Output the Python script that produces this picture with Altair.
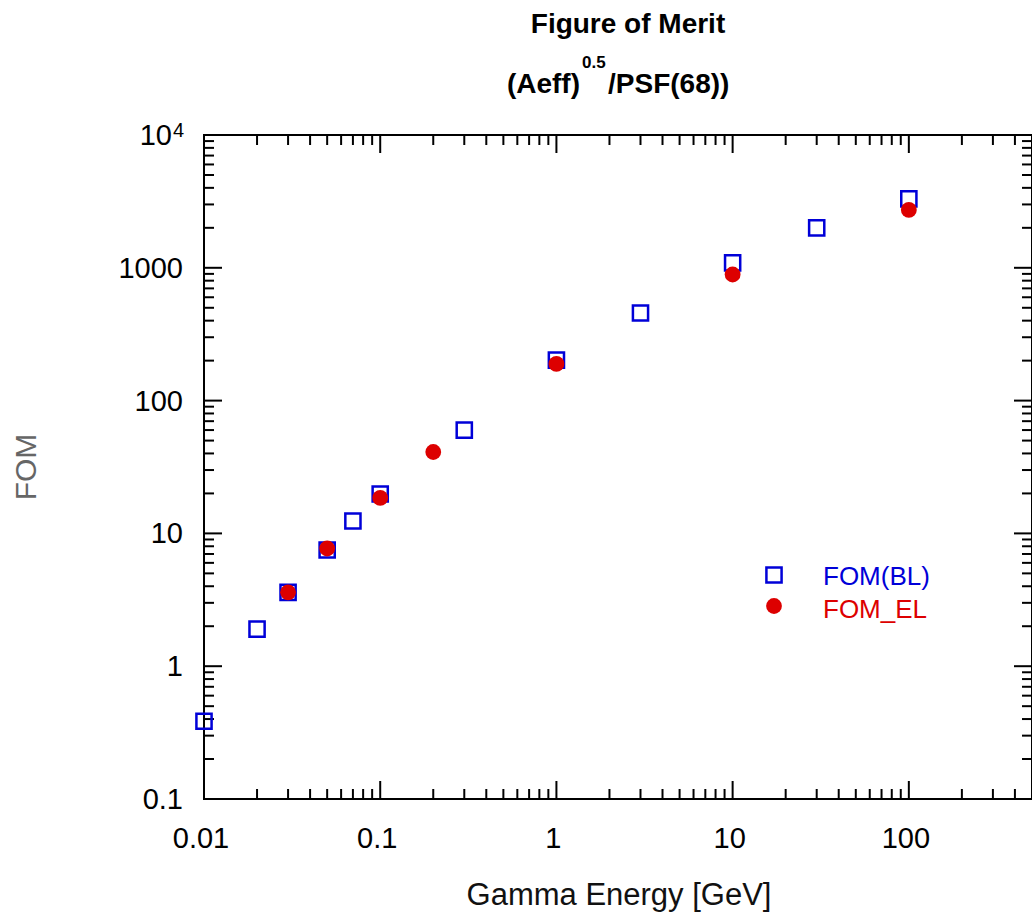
import altair as alt
import pandas as pd

# ---------------- data ----------------
energy_bl = [0.01, 0.02, 0.03, 0.05, 0.07, 0.1, 0.3, 1, 3, 10, 30, 100]
fom_bl = [0.385, 1.9, 3.6, 7.5, 12.4, 19.8, 60, 202, 457, 1090, 2000, 3300]
energy_el = [0.03, 0.05, 0.1, 0.2, 1, 10, 100]
fom_el = [3.6, 7.7, 18.5, 41, 189, 890, 2730]

series_names = ["FOM(BL)", "FOM_EL"]
x_major = [0.01, 0.1, 1, 10, 100]
x_labels = ["0.01", "0.1", "1", "10", "100"]
y_major = [0.1, 1, 10, 100, 1000, 10000]
y_labels = ["0.1", "1", "10", "100", "1000", "10"]
y_label_sup = ["4"]          # exponent of the last y label (10^4)
minor_mult = [2, 3, 4, 5, 6, 7, 8, 9]
x_minor = [m * d for d in x_major for m in minor_mult if m * d < 500]
y_minor = [m * d for d in y_major[:-1] for m in minor_mult]

title_line1 = ["Figure of Merit"]
title_line2a = ["(Aeff)"]
title_line2b = ["0.5"]
title_line2c = ["/PSF(68))"]
x_title = ["Gamma Energy [GeV]"]
y_title = ["FOM"]

W, H = 828, 664
FONT = "Liberation Sans"
BLUE = "#0000d8"
RED = "#dd0000"

xs = alt.Scale(type="log", domain=[0.01, 500], nice=False)
ys = alt.Scale(type="log", domain=[0.1, 10000], nice=False)

df_bl = pd.DataFrame({"energy": energy_bl, "fom": fom_bl})
df_el = pd.DataFrame({"energy": energy_el, "fom": fom_el})

bl = alt.Chart(df_bl).mark_point(shape="square", filled=False, color=BLUE,
                                  strokeWidth=2.5, size=230, opacity=1).encode(
    x=alt.X("energy:Q", scale=xs, axis=None),
    y=alt.Y("fom:Q", scale=ys, axis=None),
)
el = alt.Chart(df_el).mark_circle(color=RED, size=250, opacity=1).encode(
    x=alt.X("energy:Q", scale=xs, axis=None),
    y=alt.Y("fom:Q", scale=ys, axis=None),
)

# ---------------- inside ticks on all four sides ----------------
def yticks(vals, length, side):
    d = pd.DataFrame({"v": vals})
    if side == "left":
        x1, x2 = 0, length
    else:
        x1, x2 = W - length, W
    return alt.Chart(d).mark_rule(color="black", strokeWidth=2).encode(
        y=alt.Y("v:Q", scale=ys, axis=None), x=alt.value(x1), x2=alt.value(x2))

def xticks(vals, length, side):
    d = pd.DataFrame({"v": vals})
    if side == "bottom":
        y1, y2 = H, H - length
    else:
        y1, y2 = 0, length
    return alt.Chart(d).mark_rule(color="black", strokeWidth=2).encode(
        x=alt.X("v:Q", scale=xs, axis=None), y=alt.value(y1), y2=alt.value(y2))

tick_layers = [
    yticks(y_major, 18, "left"), yticks(y_minor, 10, "left"),
    yticks(y_major, 18, "right"), yticks(y_minor, 10, "right"),
    xticks(x_major, 18, "bottom"), xticks(x_minor, 10, "bottom"),
    xticks(x_major, 18, "top"), xticks(x_minor, 10, "top"),
]

# ---------------- tick labels ----------------
xlab = alt.Chart(pd.DataFrame({"v": x_major, "t": x_labels})).mark_text(
    font=FONT, fontSize=29, color="black", align="center", baseline="alphabetic", dx=-3).encode(
    x=alt.X("v:Q", scale=xs, axis=None), y=alt.value(H + 49), text="t:N")
ylab = alt.Chart(pd.DataFrame({"v": y_major[:-1], "t": y_labels[:-1]})).mark_text(
    font=FONT, fontSize=29, color="black", align="right", baseline="alphabetic", dy=10).encode(
    y=alt.Y("v:Q", scale=ys, axis=None), x=alt.value(-21), text="t:N")
ylab_top = alt.Chart(pd.DataFrame({"v": y_major[-1:], "t": y_labels[-1:]})).mark_text(
    font=FONT, fontSize=29, color="black", align="right", baseline="alphabetic", dy=10).encode(
    y=alt.Y("v:Q", scale=ys, axis=None), x=alt.value(-32), text="t:N")
ylab_sup = alt.Chart(pd.DataFrame({"v": y_major[-1:], "t": y_label_sup})).mark_text(
    font=FONT, fontSize=20, color="black", align="left", baseline="alphabetic", dy=2).encode(
    y=alt.Y("v:Q", scale=ys, axis=None), x=alt.value(-31), text="t:N")


def text_layer(lst, x, y, size, color="black", weight="normal", align="center",
               baseline="alphabetic", angle=0):
    d = pd.DataFrame({"t": lst})
    return alt.Chart(d).mark_text(font=FONT, fontSize=size, fontWeight=weight, color=color,
                                  align=align, baseline=baseline, angle=angle).encode(
        text="t:N", x=alt.value(x), y=alt.value(y))

# ---------------- legend ----------------
leg_bl_sym = alt.Chart(pd.DataFrame({"t": [series_names[0]]})).mark_point(
    shape="square", filled=False, color=BLUE, strokeWidth=2.5, size=230, opacity=1).encode(
    x=alt.value(570), y=alt.value(440))
leg_el_sym = alt.Chart(pd.DataFrame({"t": [series_names[1]]})).mark_circle(
    color=RED, size=250, opacity=1).encode(x=alt.value(570), y=alt.value(471))
leg_bl_txt = text_layer([series_names[0]], 619, 450, 26, color=BLUE, align="left")
leg_el_txt = text_layer([series_names[1]], 619, 483, 26, color=RED, align="left")

# ---------------- titles ----------------
t1 = text_layer(title_line1, 424, -102, 28, weight="bold")
t2a = text_layer(title_line2a, 376, -42, 28, weight="bold", align="right")
t2b = text_layer(title_line2b, 378, -67, 17, weight="bold", align="left")
t2c = text_layer(title_line2c, 404, -42, 28, weight="bold", align="left")
xt = text_layer(x_title, 415, 770, 31, color="#111111")
yt = text_layer(y_title, -177, 332, 30, color="#666666", angle=270, baseline="middle")

chart = alt.layer(
    *tick_layers, bl, el,
    xlab, ylab, ylab_top, ylab_sup,
    leg_bl_sym, leg_el_sym, leg_bl_txt, leg_el_txt,
    t1, t2a, t2b, t2c, xt, yt,
).properties(
    width=W, height=H,
    autosize="none",
    padding={"left": 204, "top": 135, "right": 0, "bottom": 115},
    background="white",
).configure_view(stroke="black", strokeWidth=2)

chart.save("out.html", embed_options={"renderer": "svg", "actions": False})
